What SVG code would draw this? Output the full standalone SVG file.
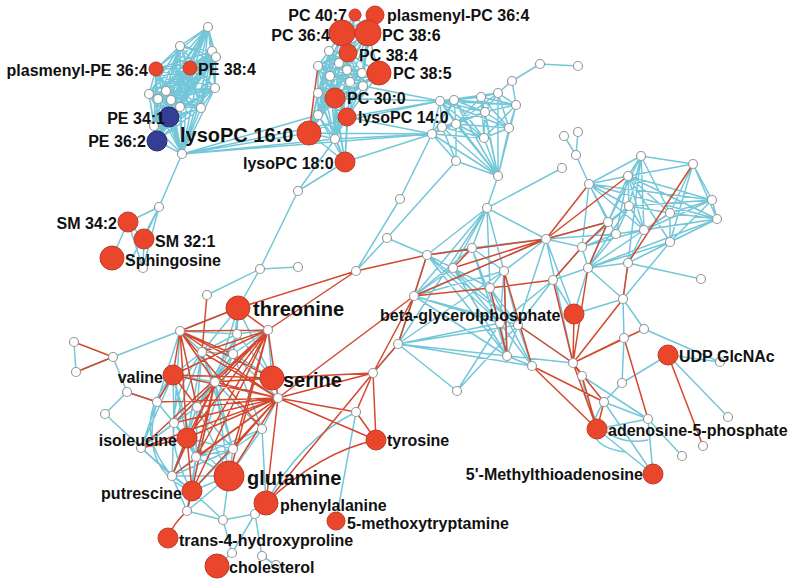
<svg xmlns="http://www.w3.org/2000/svg" width="796" height="586" viewBox="0 0 796 586">
<style>
.c{fill:none;stroke:#74c7d9;stroke-width:1.5;stroke-linejoin:round;stroke-linecap:round}
.r{fill:none;stroke:#d4482e;stroke-width:1.5;stroke-linejoin:round;stroke-linecap:round}
.w{fill:#fff;stroke:#9a9a9a;stroke-width:1.2}
.n{fill:#ea462c;stroke:#c03a27;stroke-width:1}
.b{fill:#353d95;stroke:#262b6e;stroke-width:1}
text{font-family:"Liberation Sans",Arial,sans-serif;font-weight:bold;fill:#111}
.s{font-size:16px}
.L{font-size:20px}
.e{text-anchor:end}
</style>
<rect width="796" height="586" fill="#fff"/>
<g id="connectors">
<path class="c" d="M208 27L180 46 208 27 212 51 208 27 216 57 208 27 156 69 208 27 190 68 208 27 215 88 208 27 149 94 208 27 166 91 208 27 158 99 208 27 171 100 208 27 180 107 208 27 201 108 208 27 169 117 208 27 154 126 208 27 157 141 208 27 182 154
M180 46L212 51 180 46 216 57 180 46 156 69 180 46 190 68 180 46 215 88 180 46 149 94 180 46 166 91 180 46 158 99 180 46 171 100 180 46 180 107 180 46 201 108 180 46 169 117 180 46 154 126 180 46 157 141 180 46 182 154
M212 51L216 57 212 51 156 69 212 51 190 68 212 51 215 88 212 51 149 94 212 51 166 91 212 51 158 99 212 51 171 100 212 51 180 107 212 51 201 108 212 51 169 117 212 51 154 126 212 51 157 141 212 51 182 154
M216 57L156 69 216 57 190 68 216 57 215 88 216 57 149 94 216 57 166 91 216 57 158 99 216 57 171 100 216 57 180 107 216 57 201 108 216 57 169 117 216 57 154 126 216 57 157 141 216 57 182 154
M156 69L190 68 156 69 215 88 156 69 149 94 156 69 166 91 156 69 158 99 156 69 171 100 156 69 180 107 156 69 201 108 156 69 169 117 156 69 154 126 156 69 157 141 156 69 182 154
M190 68L215 88 190 68 149 94 190 68 166 91 190 68 158 99 190 68 171 100 190 68 180 107 190 68 201 108 190 68 169 117 190 68 154 126 190 68 157 141 190 68 182 154
M215 88L149 94 215 88 166 91 215 88 158 99 215 88 171 100 215 88 180 107 215 88 201 108 215 88 169 117 215 88 154 126 215 88 157 141 215 88 182 154
M149 94L166 91 149 94 158 99 149 94 171 100 149 94 180 107 149 94 201 108 149 94 169 117 149 94 154 126 149 94 157 141 149 94 182 154
M166 91L158 99 166 91 171 100 166 91 180 107 166 91 201 108 166 91 169 117 166 91 154 126 166 91 157 141 166 91 182 154
M158 99L171 100 158 99 180 107 158 99 201 108 158 99 169 117 158 99 154 126 158 99 157 141 158 99 182 154
M171 100L180 107 171 100 201 108 171 100 169 117 171 100 154 126 171 100 157 141 171 100 182 154
M180 107L201 108 180 107 169 117 180 107 154 126 180 107 157 141 180 107 182 154
M201 108L169 117 201 108 154 126 201 108 157 141 201 108 182 154
M169 117L154 126 169 117 157 141 169 117 182 154 M154 126L157 141 154 126 182 154 M157 141L182 154
M182 154L309 133 M182 154L318 115 M182 154L335 139 M182 154L440 101 M182 154L432 134 M182 154L159 207"/>
<path class="c" d="M159 207L128 222 M159 207L144 239 M159 207L143 268 M128 222L144 239 M128 222L112 258 M128 222L143 268 M144 239L143 268 M159 207L130 262"/>
<path class="c" d="M329 51L318 66 329 51 339 63 329 51 330 76 329 51 347 70 329 51 362 73 329 51 350 82 329 51 363 86 329 51 318 93 329 51 318 115 329 51 335 139
M318 66L339 63 318 66 330 76 318 66 347 70 318 66 362 73 318 66 350 82 318 66 363 86 318 66 318 93 318 66 318 115 318 66 335 139
M339 63L330 76 339 63 347 70 339 63 362 73 339 63 350 82 339 63 363 86 339 63 318 93 339 63 318 115 339 63 335 139
M330 76L347 70 330 76 362 73 330 76 350 82 330 76 363 86 330 76 318 93 330 76 318 115 330 76 335 139
M347 70L362 73 347 70 350 82 347 70 363 86 347 70 318 93 347 70 318 115 347 70 335 139
M362 73L350 82 362 73 363 86 362 73 318 93 362 73 318 115 362 73 335 139
M350 82L363 86 350 82 318 93 350 82 318 115 350 82 335 139 M363 86L318 93 363 86 318 115 363 86 335 139 M318 93L318 115 318 93 335 139 M318 115L335 139
M355 15L342 33 355 15 368 33 355 15 348 53 355 15 329 51 355 15 339 63 355 15 347 70
M375 15L368 33 375 15 342 33 375 15 348 53 375 15 347 70 375 15 362 73
M342 33L368 33 342 33 348 53 342 33 329 51 342 33 318 66 342 33 339 63 342 33 330 76 342 33 347 70 342 33 350 82 342 33 318 93
M368 33L348 53 368 33 379 73 368 33 347 70 368 33 362 73 368 33 363 86 368 33 339 63 368 33 350 82 368 33 318 66
M348 53L379 73 348 53 329 51 348 53 318 66 348 53 330 76 348 53 362 73 348 53 363 86 348 53 318 93 348 53 335 98 348 53 318 115
M379 73L347 70 379 73 362 73 379 73 350 82 379 73 363 86 379 73 335 98 379 73 347 117 379 73 318 115 379 73 330 76 379 73 318 66
M335 98L347 117 335 98 309 133 335 98 318 66 335 98 339 63 335 98 347 70 335 98 350 82 335 98 363 86 335 98 318 115 335 98 335 139 335 98 345 162 335 98 329 51
M347 117L309 133 347 117 345 162 347 117 329 51 347 117 330 76 347 117 362 73 347 117 363 86 347 117 318 93 347 117 335 139 347 117 318 66
M309 133L329 51 309 133 330 76 309 133 318 93 309 133 318 115 309 133 335 139 309 133 345 162 309 133 347 70
M345 162L335 139 345 162 318 115 345 162 318 93 345 162 330 76 345 162 350 82
M347 117L440 101 M335 98L440 101 M309 133L432 134 M335 139L432 134 M345 162L432 134 M347 117L432 134 M363 86L440 101"/>
<path class="c" d="M578 66L540 64 512 81 498 93
M498 93L481 97 498 93 516 105 498 93 454 100 498 93 440 101 498 93 509 128 498 93 485 112 498 93 498 176 498 93 456 124
M481 97L440 101 481 97 454 100 481 97 516 105 481 97 485 112 481 97 509 128 481 97 498 176 481 97 456 124 481 97 484 138
M516 105L485 112 516 105 509 128 516 105 440 101 516 105 454 100 516 105 498 176 516 105 484 138 516 105 512 81
M454 100L440 101 454 100 456 124 454 100 442 127 454 100 485 112 454 100 498 176 454 100 432 134 454 100 484 138
M440 101L442 127 440 101 456 124 440 101 432 134 440 101 485 112 440 101 484 138 440 101 498 176 440 101 509 128
M485 112L456 124 485 112 484 138 485 112 509 128 485 112 442 127 485 112 498 176 485 112 432 134
M509 128L484 138 509 128 498 176 509 128 456 124 M484 138L498 176 484 138 456 124 484 138 442 127 484 138 432 134
M456 124L498 176 456 124 456 161 456 124 432 134 456 124 442 127 M442 127L498 176 442 127 456 161 442 127 432 134
M432 134L498 176 432 134 456 161 M432 134L400 199 356 271 M456 161L498 176 M456 161L387 238 356 271 M498 176L487 208 M487 208L562 168
M298 191L345 162 M298 191L335 139 M298 191L260 269 207 295 M260 269L298 267 M260 269L238 308
M564 136L576 155 578 132 M576 155L589 184"/>
<path class="c" d="M589 184L628 176 589 184 641 156 589 184 629 206 589 184 712 200 589 184 717 219 589 184 608 222 589 184 616 234 589 184 644 230 589 184 582 247
M641 156L628 176 641 156 693 164 641 156 629 206 641 156 670 213 641 156 644 230 641 156 628 263 641 156 608 222
M693 164L628 176 693 164 712 200 693 164 717 219 693 164 670 213 693 164 670 242
M628 176L712 200 628 176 717 219 628 176 629 206 628 176 670 213 628 176 644 230 628 176 616 234 628 176 670 242 628 176 608 222 628 176 588 268
M712 200L717 219 712 200 670 213 712 200 629 206 712 200 644 230 712 200 670 242
M717 219L670 213 717 219 644 230 717 219 670 242 717 219 616 234 717 219 628 263 717 219 588 268
M629 206L608 222 629 206 616 234 629 206 644 230 629 206 588 268 629 206 582 247 629 206 670 213
M670 213L670 242 670 213 644 230 M644 230L582 247 644 230 588 268 644 230 628 263 M616 234L588 268 616 234 582 247
M670 242L628 263 670 242 623 299 670 242 588 268 M628 263L701 279 628 263 623 299 628 263 588 268 M582 247L588 268 582 247 608 222 M608 222L588 268
M623 299L644 329 M623 299L574 314 M623 299L624 338 M623 299L588 268
M546 239L582 247 M546 239L608 222 M546 239L616 234 M553 280L588 268 M553 280L582 247"/>
<path class="c" d="M487 208L414 296 487 208 427 255 487 208 453 268 487 208 472 248 487 208 490 288 487 208 504 271 487 208 546 239 487 208 398 344
M414 296L472 248 414 296 504 271 414 296 546 239 414 296 453 268 414 296 500 323 414 296 518 325 414 296 507 356
M427 255L472 248 427 255 453 268 427 255 500 323 427 255 518 325 427 255 546 239 427 255 507 356
M472 248L546 239 472 248 500 323 472 248 507 356 472 248 504 271
M453 268L490 288 453 268 500 323 453 268 507 356 453 268 518 325
M504 271L546 239 504 271 490 288 504 271 507 356 504 271 518 325 504 271 500 323
M490 288L518 325 490 288 532 366
M398 344L500 323 398 344 518 325 398 344 507 356 398 344 532 366 398 344 457 391 398 344 504 271 398 344 427 255 398 344 414 296
M457 391L500 323 457 391 518 325 M546 239L518 325 546 239 573 363 546 239 574 314 M553 280L518 325 553 280 500 323 553 280 574 314
M500 323L507 356 M518 325L507 356 M518 325L532 366 M507 356L532 366 M500 323L532 366 M518 325L573 363 M507 356L573 363
M588 268L574 314 M624 338L622 383 M373 373L398 344 M387 238L427 255"/>
<path class="c" d="M668 355L622 383 M668 355L720 362 M668 355L728 417 M644 329L720 362 M604 402L648 419 M604 402L653 474 M648 419L682 456 M597 429L653 474 M597 429L648 419 M622 383L604 402 M648 419L653 474 M582 376L648 419 M582 376Q592 450 648 440 M604 402Q575 445 625 452"/>
<path class="c" d="M238 308L237 334 238 308 202 352 238 308 233 354 238 308 215 382 238 308 272 378 238 308 180 331
M180 331L113 357 M180 331L202 352 180 331 237 334 180 331 174 423 180 331 157 402
M237 334L202 352 237 334 233 354 237 334 268 330 237 334 215 382 237 334 272 378 237 334 197 407
M268 330L233 354 268 330 272 378
M202 352L233 354 202 352 173 375 202 352 215 382 202 352 197 407 202 352 174 423 202 352 187 438 202 352 233 449
M233 354L215 382 233 354 272 378 233 354 278 398 233 354 197 407 233 354 262 429 233 354 196 457
M173 375L215 382 173 375 174 423 173 375 187 438 173 375 141 448 173 375 196 457 173 375 157 402
M215 382L197 407 215 382 174 423 215 382 233 449 215 382 262 429 215 382 229 476
M197 407L174 423 197 407 187 438 197 407 233 449 197 407 196 457 197 407 141 448 197 407 229 476 197 407 172 476
M174 423L187 438 174 423 141 448 174 423 172 476 174 423 196 457 174 423 157 402
M187 438L196 457 187 438 233 449 187 438 172 476 187 438 229 476
M262 429L233 449 262 429 229 476 262 429 196 457 262 429 278 398 262 429 266 503
M141 448L172 476 141 448 192 491 141 448 157 402 M233 449L196 457 233 449 229 476 233 449 172 476 233 449 192 491
M196 457L172 476 196 457 229 476 196 457 192 491 196 457 187 511 M172 476L192 491 172 476 187 511 172 476 229 476
M229 476L192 491 229 476 223 520 229 476 187 511 M192 491L187 511 M187 511L223 520 M223 520L255 514 M255 514L266 503 M192 491L223 520
M127 392L105 414 M127 392L157 402 M113 357L127 392 M113 357L76 372 M74 342L76 372 M105 414L172 476
M255 514L232 553 M255 514L262 556 M262 556L276 565 M232 553L217 566 M223 520L232 553
M266 503Q300 440 356 412 M356 412L336 521 M173 375Q128 425 172 476 M157 402Q138 470 192 491 M202 352Q150 420 192 491"/>
<path class="r" d="M318 66L309 133 M356 271L427 255 M356 271L268 330 M238 308L356 271 M414 296L278 398 M414 296L373 373
M546 239L427 255 M546 239L414 296 M546 239L453 268 M546 239L608 222 M589 184L546 239 M628 176L546 239 M553 280L490 288 M553 280L582 247 M553 280L573 363
M608 222L582 247 M608 222L588 268 M472 248L453 268 M504 271L532 366 M504 271L507 356 M490 288L507 356 M414 296L490 288 M427 255L414 296 M414 296L398 344 M398 344L373 373
M574 314L573 363 M588 268L573 363 M623 299L573 363 M624 338L573 363 M582 376L573 363 M573 363L604 402 M573 363L597 429 M573 363L518 325 M573 363L644 329
M532 366L597 429 M532 366L604 402 M582 376L597 429 M604 402L597 429 M624 338L648 419 M668 355L703 446 M693 164L628 263 623 299"/>
<path class="r" d="M207 295L202 352 M238 308L180 331 M238 308L268 330
M180 331L268 330 180 331 272 378 180 331 278 398 180 331 173 375 180 331 215 382 180 331 197 407 180 331 187 438 180 331 262 429 180 331 233 354
M268 330L278 398 268 330 187 438 268 330 192 491 268 330 197 407 268 330 173 375 268 330 229 476 268 330 233 449 268 330 174 423 268 330 196 457 268 330 202 352 268 330 141 448
M278 398L173 375 278 398 215 382 278 398 187 438 278 398 174 423 278 398 197 407 278 398 196 457 278 398 172 476 278 398 192 491 278 398 229 476 278 398 266 503 278 398 157 402 278 398 356 412 278 398 373 373 278 398 202 352 278 398 233 449 278 398 376 440 278 398 141 448
M272 378L373 373 272 378 173 375 272 378 215 382 M215 382L187 438 215 382 172 476 215 382 196 457 215 382 192 491
M173 375L157 402 173 375 197 407 M187 438L141 448 187 438 192 491 187 438 172 476
M157 402L127 392 M113 357L74 342 M113 357L76 372 M192 491L187 511 M187 511Q172 525 168 538
M266 503Q320 452 376 440 M266 503L373 373 M373 373L356 412 M373 373L376 440 M356 412L376 440"/>
</g>
<g id="unlabeled-nodes">
<circle class="w" r="4.5" cx="208" cy="27"/><circle class="w" r="4.5" cx="180" cy="46"/><circle class="w" r="4.5" cx="212" cy="51"/><circle class="w" r="4.5" cx="216" cy="57"/><circle class="w" r="4.5" cx="215" cy="88"/><circle class="w" r="4.5" cx="149" cy="94"/><circle class="w" r="4.5" cx="166" cy="91"/><circle class="w" r="4.5" cx="158" cy="99"/><circle class="w" r="4.5" cx="171" cy="100"/><circle class="w" r="4.5" cx="180" cy="107"/><circle class="w" r="4.5" cx="201" cy="108"/><circle class="w" r="4.5" cx="154" cy="126"/><circle class="w" r="4.5" cx="182" cy="154"/>
<circle class="w" r="4.5" cx="329" cy="51"/><circle class="w" r="4.5" cx="318" cy="66"/><circle class="w" r="4.5" cx="339" cy="63"/><circle class="w" r="4.5" cx="330" cy="76"/><circle class="w" r="4.5" cx="347" cy="70"/><circle class="w" r="4.5" cx="362" cy="73"/><circle class="w" r="4.5" cx="350" cy="82"/><circle class="w" r="4.5" cx="363" cy="86"/><circle class="w" r="4.5" cx="318" cy="93"/><circle class="w" r="4.5" cx="318" cy="115"/><circle class="w" r="4.5" cx="335" cy="139"/><circle class="w" r="4.5" cx="298" cy="191"/>
<circle class="w" r="4.5" cx="440" cy="101"/><circle class="w" r="4.5" cx="454" cy="100"/><circle class="w" r="4.5" cx="481" cy="97"/><circle class="w" r="4.5" cx="498" cy="93"/><circle class="w" r="4.5" cx="512" cy="81"/><circle class="w" r="4.5" cx="516" cy="105"/><circle class="w" r="4.5" cx="485" cy="112"/><circle class="w" r="4.5" cx="442" cy="127"/><circle class="w" r="4.5" cx="456" cy="124"/><circle class="w" r="4.5" cx="509" cy="128"/><circle class="w" r="4.5" cx="484" cy="138"/><circle class="w" r="4.5" cx="432" cy="134"/><circle class="w" r="4.5" cx="456" cy="161"/><circle class="w" r="4.5" cx="498" cy="176"/><circle class="w" r="4.5" cx="540" cy="64"/><circle class="w" r="4.5" cx="578" cy="66"/>
<circle class="w" r="4.5" cx="159" cy="207"/><circle class="w" r="4.5" cx="143" cy="268"/><circle class="w" r="4.5" cx="260" cy="269"/><circle class="w" r="4.5" cx="298" cy="267"/><circle class="w" r="4.5" cx="400" cy="199"/><circle class="w" r="4.5" cx="387" cy="238"/><circle class="w" r="4.5" cx="356" cy="271"/><circle class="w" r="4.5" cx="562" cy="168"/><circle class="w" r="4.5" cx="564" cy="136"/><circle class="w" r="4.5" cx="578" cy="132"/><circle class="w" r="4.5" cx="576" cy="155"/>
<circle class="w" r="4.5" cx="207" cy="295"/><circle class="w" r="4.5" cx="180" cy="331"/><circle class="w" r="4.5" cx="237" cy="334"/><circle class="w" r="4.5" cx="268" cy="330"/><circle class="w" r="4.5" cx="113" cy="357"/><circle class="w" r="4.5" cx="202" cy="352"/><circle class="w" r="4.5" cx="233" cy="354"/><circle class="w" r="4.5" cx="215" cy="382"/><circle class="w" r="4.5" cx="278" cy="398"/><circle class="w" r="4.5" cx="127" cy="392"/><circle class="w" r="4.5" cx="157" cy="402"/><circle class="w" r="4.5" cx="105" cy="414"/><circle class="w" r="4.5" cx="197" cy="407"/><circle class="w" r="4.5" cx="174" cy="423"/><circle class="w" r="4.5" cx="262" cy="429"/><circle class="w" r="4.5" cx="141" cy="448"/><circle class="w" r="4.5" cx="233" cy="449"/><circle class="w" r="4.5" cx="196" cy="457"/><circle class="w" r="4.5" cx="172" cy="476"/><circle class="w" r="4.5" cx="187" cy="511"/><circle class="w" r="4.5" cx="223" cy="520"/><circle class="w" r="4.5" cx="255" cy="514"/><circle class="w" r="4.5" cx="232" cy="553"/><circle class="w" r="4.5" cx="262" cy="556"/><circle class="w" r="4.5" cx="276" cy="565"/><circle class="w" r="4.5" cx="74" cy="342"/><circle class="w" r="4.5" cx="76" cy="372"/><circle class="w" r="4.5" cx="373" cy="373"/><circle class="w" r="4.5" cx="356" cy="412"/>
<circle class="w" r="4.5" cx="487" cy="208"/><circle class="w" r="4.5" cx="427" cy="255"/><circle class="w" r="4.5" cx="472" cy="248"/><circle class="w" r="4.5" cx="453" cy="268"/><circle class="w" r="4.5" cx="504" cy="271"/><circle class="w" r="4.5" cx="490" cy="288"/><circle class="w" r="4.5" cx="546" cy="239"/><circle class="w" r="4.5" cx="553" cy="280"/><circle class="w" r="4.5" cx="500" cy="323"/><circle class="w" r="4.5" cx="518" cy="325"/><circle class="w" r="4.5" cx="507" cy="356"/><circle class="w" r="4.5" cx="532" cy="366"/><circle class="w" r="4.5" cx="573" cy="363"/><circle class="w" r="4.5" cx="457" cy="391"/><circle class="w" r="4.5" cx="414" cy="296"/><circle class="w" r="4.5" cx="398" cy="344"/><circle class="w" r="4.5" cx="624" cy="338"/><circle class="w" r="4.5" cx="582" cy="376"/><circle class="w" r="4.5" cx="622" cy="383"/><circle class="w" r="4.5" cx="604" cy="402"/>
<circle class="w" r="4.5" cx="589" cy="184"/><circle class="w" r="4.5" cx="641" cy="156"/><circle class="w" r="4.5" cx="693" cy="164"/><circle class="w" r="4.5" cx="628" cy="176"/><circle class="w" r="4.5" cx="712" cy="200"/><circle class="w" r="4.5" cx="717" cy="219"/><circle class="w" r="4.5" cx="629" cy="206"/><circle class="w" r="4.5" cx="670" cy="213"/><circle class="w" r="4.5" cx="608" cy="222"/><circle class="w" r="4.5" cx="644" cy="230"/><circle class="w" r="4.5" cx="616" cy="234"/><circle class="w" r="4.5" cx="670" cy="242"/><circle class="w" r="4.5" cx="582" cy="247"/><circle class="w" r="4.5" cx="588" cy="268"/><circle class="w" r="4.5" cx="628" cy="263"/><circle class="w" r="4.5" cx="701" cy="279"/><circle class="w" r="4.5" cx="623" cy="299"/><circle class="w" r="4.5" cx="644" cy="329"/>
<circle class="w" r="4.5" cx="720" cy="362"/><circle class="w" r="4.5" cx="648" cy="419"/><circle class="w" r="4.5" cx="728" cy="417"/><circle class="w" r="4.5" cx="703" cy="446"/><circle class="w" r="4.5" cx="682" cy="456"/>
</g>
<g id="pl-pe364"><circle class="n" cx="156" cy="69" r="7"/><text class="s e" x="148" y="76">plasmenyl-PE 36:4</text></g>
<g id="pe384"><circle class="n" cx="190" cy="68" r="7"/><text class="s" x="198" y="75">PE 38:4</text></g>
<g id="pe341"><circle class="b" cx="169" cy="117" r="10"/><text class="s e" x="165" y="124">PE 34:1</text></g>
<g id="pe362"><circle class="b" cx="157" cy="141" r="10"/><text class="s e" x="146" y="147">PE 36:2</text></g>
<g id="pc407"><circle class="n" cx="355" cy="15" r="6"/><text class="s e" x="347" y="21">PC 40:7</text></g>
<g id="pl-pc364"><circle class="n" cx="375" cy="15" r="9"/><text class="s" x="387" y="21">plasmenyl-PC 36:4</text></g>
<g id="pc364"><circle class="n" cx="342" cy="33" r="13"/><text class="s e" x="330" y="41">PC 36:4</text></g>
<g id="pc386"><circle class="n" cx="368" cy="33" r="13"/><text class="s" x="382" y="41">PC 38:6</text></g>
<g id="pc384"><circle class="n" cx="348" cy="53" r="9"/><text class="s" x="359" y="61">PC 38:4</text></g>
<g id="pc385"><circle class="n" cx="379" cy="73" r="12"/><text class="s" x="393" y="79">PC 38:5</text></g>
<g id="pc300"><circle class="n" cx="335" cy="98" r="10"/><text class="s" x="347" y="104">PC 30:0</text></g>
<g id="lysopc140"><circle class="n" cx="347" cy="117" r="9"/><text class="s" x="358" y="123">lysoPC 14:0</text></g>
<g id="lysopc160"><circle class="n" cx="309" cy="133" r="12"/><text class="L" x="180" y="142">lysoPC 16:0</text></g>
<g id="lysopc180"><circle class="n" cx="345" cy="162" r="10"/><text class="s" x="243" y="169">lysoPC 18:0</text></g>
<g id="sm342"><circle class="n" cx="128" cy="222" r="10"/><text class="s e" x="117" y="229">SM 34:2</text></g>
<g id="sm321"><circle class="n" cx="144" cy="239" r="10"/><text class="s" x="155" y="247">SM 32:1</text></g>
<g id="sphingosine"><circle class="n" cx="112" cy="258" r="12"/><text class="s" x="125" y="266">Sphingosine</text></g>
<g id="threonine"><circle class="n" cx="238" cy="308" r="12"/><text class="L" x="253" y="316">threonine</text></g>
<g id="valine"><circle class="n" cx="173" cy="375" r="10"/><text class="s e" x="163" y="383">valine</text></g>
<g id="serine"><circle class="n" cx="272" cy="378" r="12"/><text class="L" x="283" y="387">serine</text></g>
<g id="isoleucine"><circle class="n" cx="187" cy="438" r="10"/><text class="s e" x="177" y="446">isoleucine</text></g>
<g id="glutamine"><circle class="n" cx="229" cy="476" r="15"/><text class="L" x="247" y="485">glutamine</text></g>
<g id="putrescine"><circle class="n" cx="192" cy="491" r="10"/><text class="s e" x="182" y="499">putrescine</text></g>
<g id="phenylalanine"><circle class="n" cx="266" cy="503" r="12"/><text class="s" x="280" y="511">phenylalanine</text></g>
<g id="methoxytryptamine"><circle class="n" cx="336" cy="521" r="9"/><text class="s" x="347" y="529">5-methoxytryptamine</text></g>
<g id="hydroxyproline"><circle class="n" cx="168" cy="538" r="10"/><text class="s" x="179" y="546">trans-4-hydroxyproline</text></g>
<g id="cholesterol"><circle class="n" cx="217" cy="566" r="12"/><text class="s" x="229" y="573">cholesterol</text></g>
<g id="tyrosine"><circle class="n" cx="376" cy="440" r="10"/><text class="s" x="387" y="446">tyrosine</text></g>
<g id="beta-glycerolphosphate"><circle class="n" cx="574" cy="314" r="10"/><text class="s" x="380" y="321">beta-glycerolphosphate</text></g>
<g id="udp-glcnac"><circle class="n" cx="668" cy="355" r="10"/><text class="s" x="679" y="362">UDP GlcNAc</text></g>
<g id="amp"><circle class="n" cx="597" cy="429" r="10"/><text class="s" x="608" y="436">adenosine-5-phosphate</text></g>
<g id="mta"><circle class="n" cx="653" cy="474" r="10"/><text class="s e" x="643" y="480">5'-Methylthioadenosine</text></g>
</svg>
